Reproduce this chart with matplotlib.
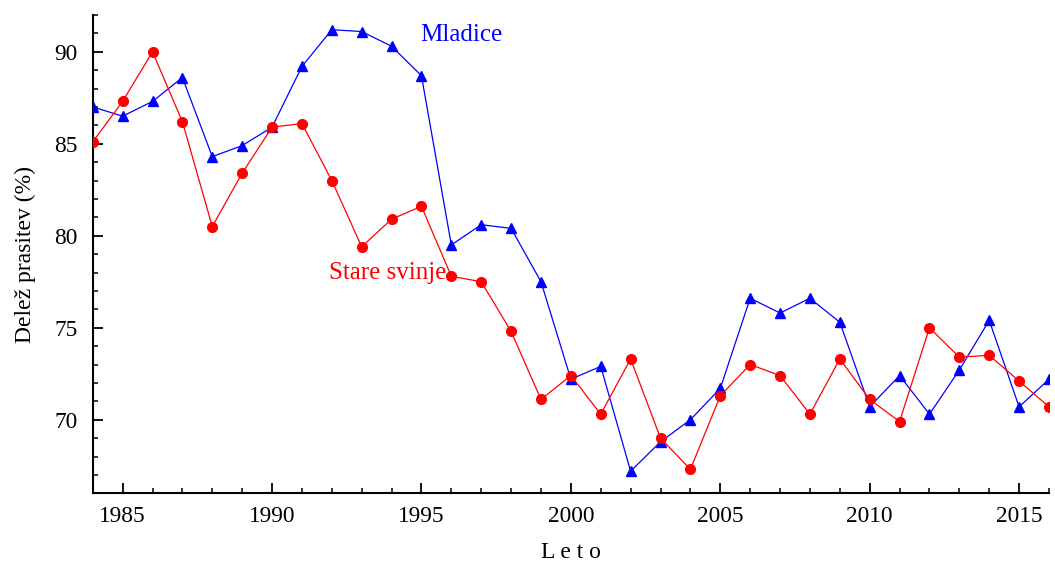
import matplotlib
matplotlib.use("Agg")
import matplotlib.pyplot as plt
from matplotlib.ticker import MultipleLocator

years = list(range(1984, 2017))
mladice = [87.0, 86.5, 87.3, 88.6, 84.3, 84.9, 85.9, 89.2, 91.2, 91.1, 90.3, 88.7,
           79.5, 80.6, 80.4, 77.5, 72.2, 72.9, 67.2, 68.8, 70.0, 71.7, 76.6, 75.8,
           76.6, 75.3, 70.7, 72.4, 70.3, 72.7, 75.4, 70.7, 72.2]
stare = [85.1, 87.3, 90.0, 86.2, 80.5, 83.4, 85.9, 86.1, 83.0, 79.4, 80.9, 81.6,
         77.8, 77.5, 74.8, 71.1, 72.4, 70.3, 73.3, 69.0, 67.3, 71.3, 73.0, 72.4,
         70.3, 73.3, 71.1, 69.9, 75.0, 73.4, 73.5, 72.1, 70.7]

plt.rcParams['font.family'] = ['Liberation Serif', 'DejaVu Serif']

fig = plt.figure(figsize=(10.55, 5.65), dpi=100)
ax = fig.add_axes([0.0879, 0.1269, 0.9064, 0.8466])

ax.plot(years, mladice, color='#0000ff', lw=0.9, marker='^', ms=6.8, zorder=3)
ax.plot(years, stare, color='#ff0000', lw=0.9, marker='o', ms=7, zorder=4)

ax.set_xlim(1984, 2016)
ax.set_ylim(66, 92)
ax.xaxis.set_major_locator(MultipleLocator(5))
ax.xaxis.set_minor_locator(MultipleLocator(1))
ax.yaxis.set_major_locator(MultipleLocator(5))
ax.yaxis.set_minor_locator(MultipleLocator(1))

for s in ['top', 'right']:
    ax.spines[s].set_visible(False)
for s in ['left', 'bottom']:
    ax.spines[s].set_linewidth(1.5)

ax.tick_params(which='major', direction='in', length=7, width=1.3, labelsize=16.8)
ax.tick_params(which='minor', direction='in', length=3.5, width=1.1)
ax.tick_params(axis='y', which='major', pad=11)
ax.tick_params(axis='x', which='major', pad=9)

ax.set_xlabel('L e t o', fontsize=17, labelpad=11)
ax.set_ylabel('Delež prasitev (%)', fontsize=17, labelpad=13)

ax.text(1996.33, 90.9, 'Mladice', color='#0000ff', fontsize=18, ha='center', va='center')
ax.text(1993.88, 77.95, 'Stare svinje', color='#ff0000', fontsize=18, ha='center', va='center')

fig.savefig('out.png', dpi=100)
